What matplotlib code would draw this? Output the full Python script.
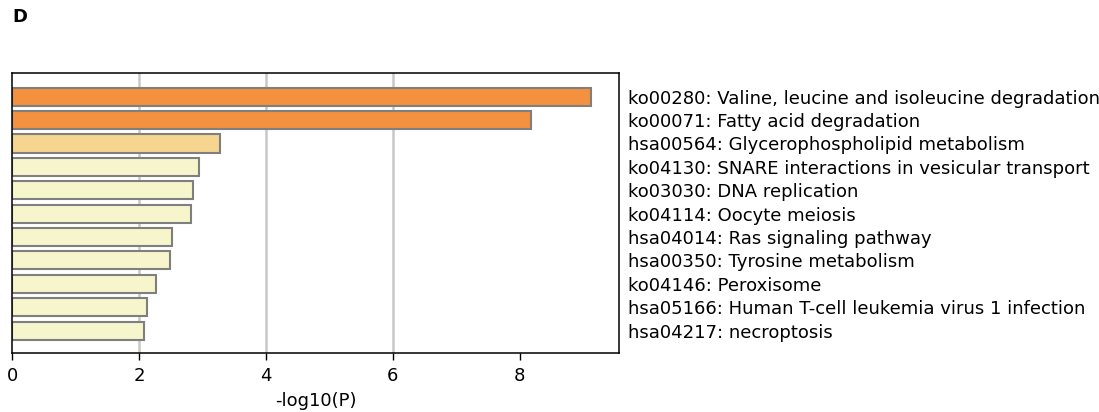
import matplotlib
matplotlib.use("Agg")
import matplotlib.pyplot as plt

# Enriched pathways, top to bottom
terms = [
    "ko00280: Valine, leucine and isoleucine degradation",
    "ko00071: Fatty acid degradation",
    "hsa00564: Glycerophospholipid metabolism",
    "ko04130: SNARE interactions in vesicular transport",
    "ko03030: DNA replication",
    "ko04114: Oocyte meiosis",
    "hsa04014: Ras signaling pathway",
    "hsa00350: Tyrosine metabolism",
    "ko04146: Peroxisome",
    "hsa05166: Human T-cell leukemia virus 1 infection",
    "hsa04217: necroptosis",
]
neg_log10_p = [9.12, 8.18, 3.28, 2.94, 2.85, 2.81, 2.52, 2.49, 2.26, 2.13, 2.08]
x_ticks = [0, 2, 4, 6, 8]


def bar_color(v):
    if v >= 6:
        return "#F4913F"
    if v >= 3:
        return "#F5D58F"
    return "#F7F5CC"


fig = plt.figure(figsize=(10.99, 4.12), dpi=100)
ax = fig.add_axes([0.0112, 0.1425, 0.5523, 0.6795])

pos = list(range(len(terms)))
for g in (2, 4, 6):
    ax.axvline(g, color="#C8C8C8", linewidth=1.8, zorder=0)

ax.barh(pos, neg_log10_p, height=0.77, color=[bar_color(v) for v in neg_log10_p],
        edgecolor="#7F7F7F", linewidth=1.5, zorder=2)

ax.set_xlim(0, 9.57)
ax.set_ylim(len(terms) - 1 + 0.97, -1.0)
ax.set_xticks(x_ticks)
ax.set_xticklabels([str(t) for t in x_ticks], fontsize=13)
ax.set_xlabel("-log10(P)", fontsize=13, labelpad=5)

ax.yaxis.tick_right()
ax.set_yticks(pos)
ax.set_yticklabels(terms, fontsize=13)
ax.tick_params(axis="y", length=0, pad=6)
ax.tick_params(axis="x", length=5, width=1, direction="out", pad=5)

for s in ax.spines.values():
    s.set_linewidth(1.1)
    s.set_color("black")

fig.text(0.011, 0.958, "D", fontsize=13, fontweight="bold", va="center", ha="left")

fig.savefig("out.png", dpi=100)
